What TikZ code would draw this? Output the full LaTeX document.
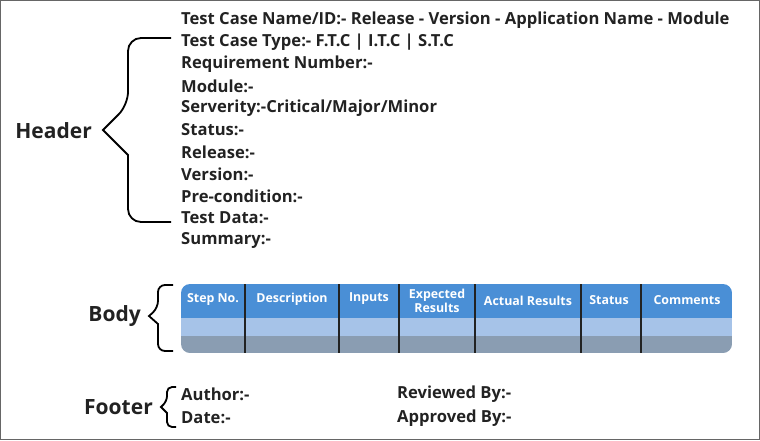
\documentclass[tikz,border=0pt]{standalone}
\usepackage{fontspec}
\setmainfont{Open Sans}
\definecolor{hdr}{HTML}{4A8FD6}
\definecolor{lrow}{HTML}{A6C3E8}
\definecolor{drow}{HTML}{8A9DB2}
\definecolor{txt}{HTML}{222222}
\begin{document}
\begin{tikzpicture}[x=1pt,y=-1pt,
  ln/.style={anchor=west,inner sep=0pt,font=\fontsize{16.6}{18}\selectfont\bfseries,text=txt},
  big/.style={anchor=east,inner sep=0pt,font=\fontsize{21}{24}\selectfont\bfseries,text=txt},
  th/.style={inner sep=0pt,align=center,text=white,font=\fontsize{12.4}{13.5}\selectfont\bfseries},
  br/.style={draw=black,line width=1.8pt,line join=miter}]
\useasboundingbox (0,0) rectangle (760,440);
\draw[gray!80!black,line width=1pt] (0.5,0.5) rectangle (759.5,439.5);
% header lines
\foreach \t [count=\i from 0] in {Test Case Name/ID:- Release - Version - Application Name - Module,
  Test Case Type:- F.T.C | I.T.C | S.T.C, Requirement Number:-, Module:-, Serverity:-Critical/Major/Minor,
  Status:-, Release:-, Version:-, Pre-condition:-, Test Data:-, Summary:-}
  \node[ln] (h\i) at (181,{20+22*\i}) {\t};
\coordinate (hb1) at (171,38); \coordinate (hb2) at (171,222);
\draw[br] (hb1) [rounded corners=13pt] -- (128,38) -- (128,105) [sharp corners] -- (103,130)
  -- (128,155) [rounded corners=13pt] -- (128,222) -- (hb2);
\node[big] (hl) at (92,131) {Header};
% table
\begin{scope}
\clip[rounded corners=9pt] (181,284) rectangle (732,353);
\fill[hdr] (181,284) rectangle (732,318);
\fill[lrow] (181,318) rectangle (732,336);
\fill[drow] (181,336) rectangle (732,353);
\foreach \x in {245,339,399,475,581,641}
  \draw[txt,line width=1.5pt] (\x,284) -- (\x,353);
\end{scope}
\node[th] (c1) at (213,299) {Step No.};
\node[th] (c2) at (292,299) {Description};
\node[th] (c3) at (369,299) {Inputs};
\node[th] (c4) at (437,301) {Expected\\Results};
\node[th] (c5) at (528,301) {Actual Results};
\node[th] (c6) at (609,300) {Status};
\node[th] (c7) at (687,300) {Comments};
\coordinate (bb1) at (173,285); \coordinate (bb2) at (173,351);
\draw[br] (bb1) [rounded corners=7pt] -- (158,285) -- (158,308) [sharp corners] -- (149,316)
  -- (158,324) [rounded corners=7pt] -- (158,351) -- (bb2);
\node[big] (bl) at (141,316) {Body};
% footer
\node[ln] (f1) at (181,394) {Author:-};
\node[ln] (f2) at (181,418) {Date:-};
\node[ln] (f3) at (397,394) {Reviewed By:-};
\node[ln] (f4) at (397,418) {Approved By:-};
\coordinate (fb1) at (176,387); \coordinate (fb2) at (176,427);
\draw[br] (fb1) [rounded corners=5pt] -- (167,387) -- (167,401) [sharp corners] -- (161,407)
  -- (167,413) [rounded corners=5pt] -- (167,427) -- (fb2);
\node[big] (fl) at (153,407) {Footer};
\end{tikzpicture}
\end{document}
